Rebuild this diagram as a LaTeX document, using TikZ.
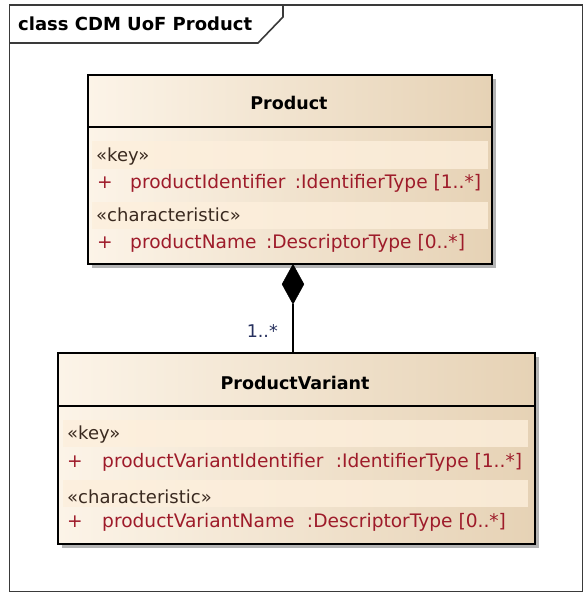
\documentclass[tikz,border=0pt]{standalone}
\usepackage{fontspec}
\setmainfont{DejaVu Sans}
\usetikzlibrary{shapes.geometric}
\definecolor{framegray}{HTML}{3A3A3A}
\definecolor{boxlight}{HTML}{FCF4E8}
\definecolor{boxmid}{HTML}{F9EDDD}
\definecolor{boxdark}{HTML}{E6D2B5}
\definecolor{bandfill}{HTML}{FDEFDC}
\definecolor{attrred}{HTML}{9E1B2A}
\definecolor{stereo}{HTML}{3A2A20}
\definecolor{multblue}{HTML}{26305E}
\definecolor{shadowgray}{HTML}{B4B4B4}
\tikzset{
  classbox/.style={draw=black, line width=1.8pt, rectangle, inner sep=0pt,
    left color=boxlight, middle color=boxmid, right color=boxdark, shading angle=90},
  band/.style={fill=bandfill, fill opacity=0.8, draw=none},
  umltitle/.style={font=\bfseries\fontsize{17.5}{20}\selectfont, text=black},
  stereotxt/.style={font=\fontsize{18}{20}\selectfont, text=stereo, anchor=west, inner sep=0pt},
  attrtxt/.style={font=\fontsize{18.6}{21}\selectfont, text=attrred, anchor=west, inner sep=0pt},
  typetxt/.style={attrtxt, xshift=9pt},
  framelbl/.style={font=\bfseries\fontsize{18}{20}\selectfont, text=black, anchor=west, inner sep=0pt},
}
\begin{document}
\begin{tikzpicture}[x=1pt, y=-1pt]
\useasboundingbox (0,0) rectangle (584,594);
\fill[white] (0,0) rectangle (584,594);

% diagram frame with its name tab
\draw[framegray, line width=1.6pt] (9.5,5) rectangle (582.5,591.5);
\draw[framegray, line width=1.6pt] (9.5,43) -- (258,43) -- (283,17) -- (283,5);
\node[framelbl] (frametitle) at (18,24) {class CDM UoF Product};

% ---- Product ----
\fill[shadowgray] (92,79) rectangle (496,268);
\node[classbox, minimum width=404pt, minimum height=189pt, anchor=north west]
  (product) at (87,74) {};
\draw[black, line width=1.5pt] (87,127) -- (491,127);
\node[umltitle] (productname) at (289,103) {Product};
\fill[band] (92,141) rectangle (488,169);
\fill[band] (92,202) rectangle (488,229);
\node[stereotxt] (pkey) at (96,157) {«key»};
\node[attrtxt] (pplus1) at (97,183) {+};
\node[attrtxt] (pattr1) at (130,183) {productIdentifier};
\node[typetxt] (ptype1) at (pattr1.east) {:IdentifierType [1..*]};
\node[stereotxt] (pchar) at (96,215) {«characteristic»};
\node[attrtxt] (pplus2) at (97,243) {+};
\node[attrtxt] (pattr2) at (130,243) {productName};
\node[typetxt] (ptype2) at (pattr2.east) {:DescriptorType [0..*]};

% ---- ProductVariant ----
\fill[shadowgray] (62,357) rectangle (539,548);
\node[classbox, minimum width=477pt, minimum height=191pt, anchor=north west]
  (variant) at (57,352) {};
\draw[black, line width=1.5pt] (57,406) -- (534,406);
\node[umltitle] (variantname) at (295,383) {ProductVariant};
\fill[band] (63,420) rectangle (528,447);
\fill[band] (63,480) rectangle (528,507);
\node[stereotxt] (vkey) at (67,435) {«key»};
\node[attrtxt] (vplus1) at (67,462) {+};
\node[attrtxt] (vattr1) at (102,462) {productVariantIdentifier};
\node[typetxt, xshift=3pt] (vtype1) at (vattr1.east) {:IdentifierType [1..*]};
\node[stereotxt] (vchar) at (67,497) {«characteristic»};
\node[attrtxt] (vplus2) at (67,522) {+};
\node[attrtxt] (vattr2) at (102,522) {productVariantName};
\node[typetxt, xshift=3pt] (vtype2) at (vattr2.east) {:DescriptorType [0..*]};

% ---- composition ----
\coordinate (ctop) at (293,264);
\node[diamond, fill=black, draw=black, inner sep=0pt, minimum width=22pt,
  minimum height=40pt, anchor=north] (comp) at (ctop) {};
\draw[black, line width=1.5pt] (comp.south) -- (comp.south |- variant.north);
\node[font=\fontsize{17.5}{19}\selectfont, text=multblue, anchor=east, inner sep=0pt]
  (mult) at (278,331) {1..*};
\end{tikzpicture}
\end{document}
